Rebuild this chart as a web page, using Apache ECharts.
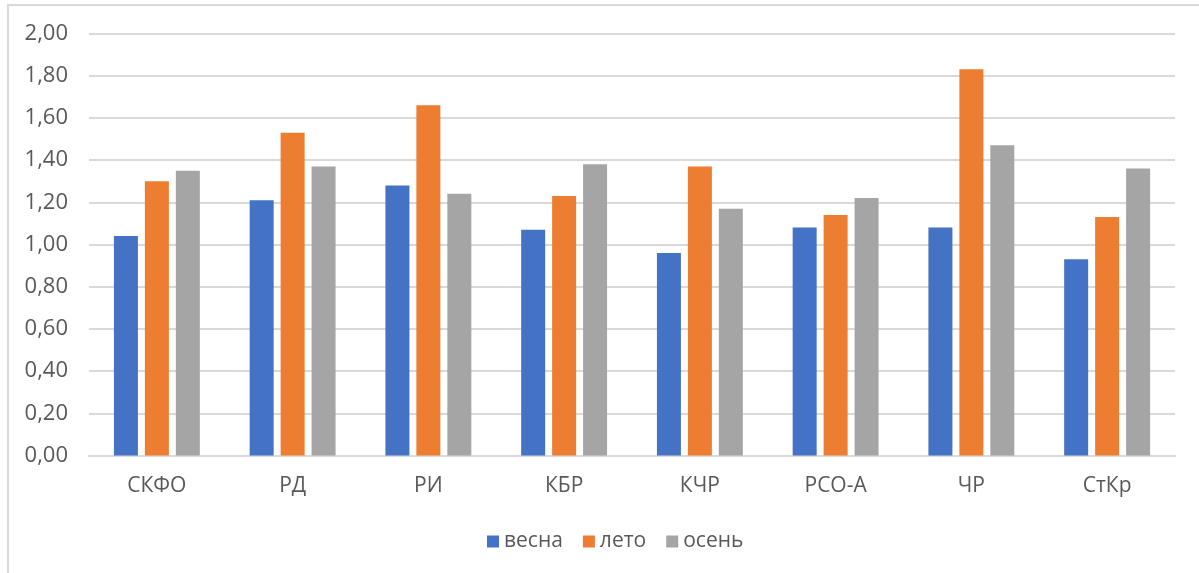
<!DOCTYPE html>
<html>
<head>
<meta charset="utf-8">
<script src="https://cdn.jsdelivr.net/npm/echarts@6/dist/echarts.min.js"></script>
<style>
  html, body { margin: 0; padding: 0; background: #ffffff; }
  #chart { width: 1199px; height: 573px; }
  #frame { position: absolute; left: 7px; top: 4px; width: 1192px; height: 569px;
           border-left: 2px solid #D9D9D9; border-top: 2px solid #D9D9D9; pointer-events: none; }
</style>
</head>
<body>
<div id="chart"></div>
<div id="frame"></div>
<script>
const categories = ['СКФО', 'РД', 'РИ', 'КБР', 'КЧР', 'РСО-А', 'ЧР', 'СтКр'];
const seriesNames = ['весна', 'лето', 'осень'];
const vesna = [1.04, 1.21, 1.28, 1.07, 0.96, 1.08, 1.08, 0.93];
const leto  = [1.30, 1.53, 1.66, 1.23, 1.37, 1.14, 1.83, 1.13];
const osen  = [1.35, 1.37, 1.24, 1.38, 1.17, 1.22, 1.47, 1.36];
const yMin = 0, yMax = 2, yStep = 0.2;
const colors = ['#4472C4', '#ED7D31', '#A5A5A5'];

const chart = echarts.init(document.getElementById('chart'));
const font = '"Open Sans", Lato, sans-serif';
const mk = (name, data, i) => ({
  name, type: 'bar', data,
  barWidth: 24, barGap: '29%',
  itemStyle: { color: colors[i] }
});
chart.setOption({
  animation: false,
  textStyle: { fontFamily: font },
  grid: { left: 89, right: 24, top: 33.5, bottom: 117.5, containLabel: false },
  legend: {
    data: seriesNames, bottom: 16, left: 482,
    icon: 'rect', itemWidth: 12, itemHeight: 12, itemGap: 20,
    textStyle: { color: '#595959', fontSize: 21, fontFamily: font }
  },
  xAxis: {
    type: 'category', data: categories,
    axisLine: { show: true, lineStyle: { color: '#D9D9D9', width: 2 } },
    axisTick: { show: false },
    axisLabel: { color: '#595959', fontSize: 21, margin: 20, fontFamily: font }
  },
  yAxis: {
    type: 'value', min: yMin, max: yMax, interval: yStep,
    axisLine: { show: false }, axisTick: { show: false },
    axisLabel: { color: '#595959', fontSize: 22, margin: 21, fontFamily: font,
      formatter: v => v.toFixed(2).replace('.', ',') },
    splitLine: { lineStyle: { color: '#D9D9D9', width: 2 } }
  },
  series: [mk(seriesNames[0], vesna, 0), mk(seriesNames[1], leto, 1), mk(seriesNames[2], osen, 2)]
});
</script>
</body>
</html>
